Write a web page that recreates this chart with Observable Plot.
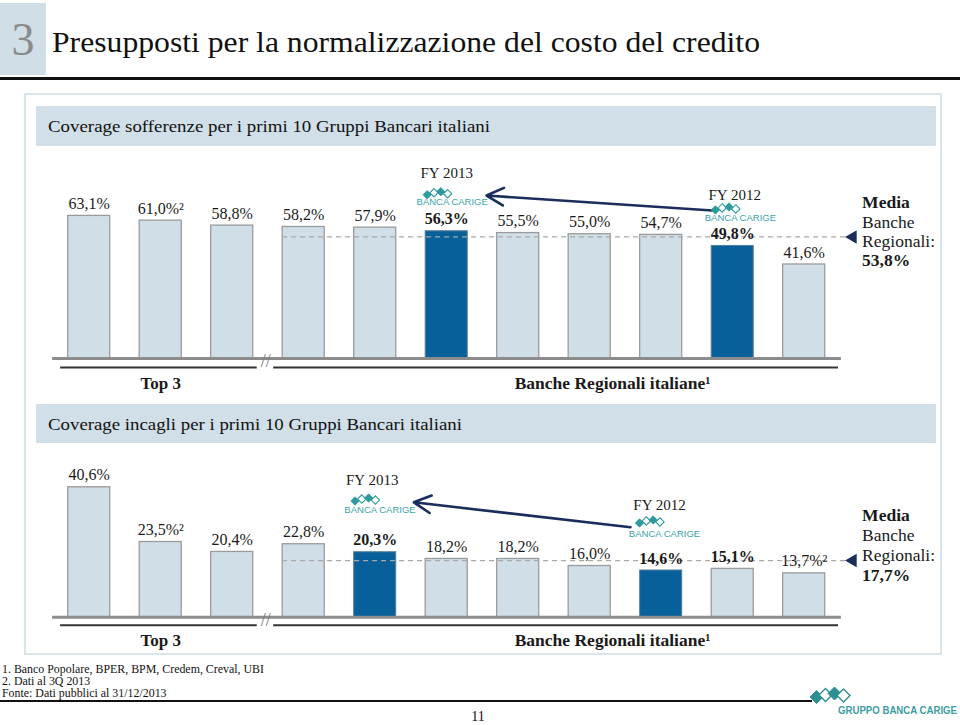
<!DOCTYPE html>
<html>
<head>
<meta charset="utf-8">
<script src="https://cdn.jsdelivr.net/npm/d3@7"></script>
<script src="https://cdn.jsdelivr.net/npm/@observablehq/plot@0.6"></script>
<style>
  body { margin: 0; background: #fff; }
  #page { position: relative; width: 960px; height: 725px; overflow: hidden; background: #fff; font-family: "Liberation Serif", serif; color: #111; }
  .abs { position: absolute; }
  .fit { display: inline-block; white-space: nowrap; transform-origin: 0 50%; }
  .hdr { position: absolute; left: 36px; width: 900px; background: #d1dfe8; }
  .hdr span { position: absolute; left: 12px; top: 50%; font-size: 17.5px; line-height: 20px; margin-top: -10px; color: #111; }
  .chart { position: absolute; left: 0; }
  .foot { position: absolute; left: 2px; font-size: 11.5px; line-height: 11px; height: 11px; color: #111; }
</style>
</head>
<body>
<div id="page">
  <div class="abs" style="left:0;top:3px;width:46px;height:72px;background:#d0dee7;"></div>
  <div class="abs" style="left:0;top:13px;width:46px;text-align:center;font-size:46px;line-height:54px;color:#8a8a8a;">3</div>
  <div class="abs" style="left:52px;top:25px;height:34px;"><span class="fit" id="title" style="font-size:29px;line-height:34px;">Presupposti per la normalizzazione del costo del credito</span></div>
  <div class="abs" style="left:0;top:77px;width:960px;height:3px;background:#111;"></div>

  <div class="abs" style="left:24px;top:93px;width:914px;height:558px;border:2px solid #d9e4eb;"></div>

  <div class="hdr" style="top:106px;height:40px;"><span class="fit" id="h1">Coverage sofferenze per i primi 10 Gruppi Bancari italiani</span></div>
  <div class="hdr" style="top:404px;height:39px;"><span class="fit" id="h2">Coverage incagli per i primi 10 Gruppi Bancari italiani</span></div>

  <div class="chart" id="chart1" style="top:150px;"></div>
  <div class="chart" id="chart2" style="top:446px;"></div>

  <div class="foot" style="top:664px;"><span class="fit" id="f1">1. Banco Popolare, BPER, BPM, Credem, Creval, UBI</span></div>
  <div class="foot" style="top:676px;"><span class="fit" id="f2">2. Dati al 3Q 2013</span></div>
  <div class="foot" style="top:688px;"><span class="fit" id="f3">Fonte: Dati pubblici al 31/12/2013</span></div>
  <div class="abs" style="left:0;top:700px;width:812px;height:2px;background:#111;"></div>
  <div class="abs" style="left:458px;top:709px;width:40px;text-align:center;font-size:14px;line-height:16px;">11</div>

  <svg class="abs" style="left:806px;top:685px;" width="50" height="22" viewBox="0 0 50 22">
    <path d="M4 12 L10.5 5.5 L17 12 L10.5 18.5 Z" fill="#2e8f92" stroke="#2e8f92" stroke-width="1"/>
    <path d="M13 10 L19.5 3.5 L26 10 L19.5 16.5 Z" fill="#fff" stroke="#2e8f92" stroke-width="1.4"/>
    <path d="M22 8.5 L28.5 2 L35 8.5 L28.5 15 Z" fill="#2e8f92" stroke="#2e8f92" stroke-width="1"/>
    <path d="M31 10.5 L37.5 4 L44 10.5 L37.5 17 Z" fill="#fff" stroke="#2e8f92" stroke-width="1.4"/>
  </svg>
  <div class="abs" style="left:838px;top:700px;height:14px;"><span class="fit" id="logo" style="font-family:'Liberation Sans',sans-serif;font-size:11px;line-height:14px;font-weight:bold;color:#3c9ea1;">GRUPPO BANCA CARIGE</span></div>
</div>

<script>
// ---------------- DATA ----------------
const groupNames = ["Top 3", "Banche Regionali italiane¹"];
const groupOf = ["Top 3","Top 3","Top 3","Regionali","Regionali","Regionali","Regionali","Regionali","Regionali","Regionali","Regionali"];

// Coverage sofferenze
const soffBanks  = ["Top 3 – A","Top 3 – B","Top 3 – C","Regionale A","Regionale B","Banca Carige FY 2013","Regionale C","Regionale D","Regionale E","Banca Carige FY 2012","Regionale F"];
const soffValues = [63.1, 61.0, 58.8, 58.2, 57.9, 56.3, 55.5, 55.0, 54.7, 49.8, 41.6];
const soffNotes  = ["", "²", "", "", "", "", "", "", "", "", ""];
const soffCarige = ["Banca Carige FY 2013", "Banca Carige FY 2012"];
const soffBold   = ["Banca Carige FY 2013", "Banca Carige FY 2012"];
const soffAvg    = 53.8;
const soffAvgLabel = ["Media", "Banche", "Regionali:", "53,8%"];

// Coverage incagli
const incBanks  = ["Top 3 – A","Top 3 – B","Top 3 – C","Regionale A","Banca Carige FY 2013","Regionale B","Regionale C","Regionale D","Banca Carige FY 2012","Regionale E","Regionale F"];
const incValues = [40.6, 23.5, 20.4, 22.8, 20.3, 18.2, 18.2, 16.0, 14.6, 15.1, 13.7];
const incNotes  = ["", "²", "", "", "", "", "", "", "", "", "²"];
const incCarige = ["Banca Carige FY 2013", "Banca Carige FY 2012"];
const incBold   = ["Banca Carige FY 2013", "Banca Carige FY 2012", "Regionale E"];
const incAvg    = 17.7;
const incAvgLabel = ["Media", "Banche", "Regionali:", "17,7%"];

const fyLabels = ["FY 2013", "FY 2012"];
const logoText = "BANCA CARIGE";

// ---------------- STYLE ----------------
const LIGHT = "#d0dee8", DARK = "#07609a", BAR_STROKE = "#9b9b9b";
const NAVY = "#1b2d5a", TEAL = "#2e9a9c", TEXT = "#1a1a1a";
const fmt = v => v.toFixed(1).replace(".", ",") + "%";

function logoMarks(xi, yv, cfg) {
  const marks = [];
  marks.push(Plot.text([cfg.fy], {x: xi, y: yv, dx: cfg.fyDx, dy: cfg.fyDy, text: d => d, fontSize: 15, fill: TEXT}));
  for (let k = 0; k < 4; k++) {
    const filled = k % 2 === 0;
    marks.push(Plot.dot([0], {x: xi, y: yv, dx: cfg.tDx - 25 + k * 6.8, dy: cfg.dDy + [1.5, -0.5, -1.5, 0.5][k],
      symbol: "diamond2", r: 3.8, fill: filled ? TEAL : "#fff", stroke: TEAL, strokeWidth: filled ? 0.8 : 1.1}));
  }
  marks.push(Plot.text([logoText], {x: xi, y: yv, dx: cfg.tDx, dy: cfg.tDy, text: d => d,
    fontFamily: "Liberation Sans, sans-serif", fontSize: 9.5, fill: "#3aa5a8"}));
  return marks;
}

function panel(p) {
  const data = p.values.map((v, i) => ({
    i, bank: p.banks[i], group: groupOf[i], value: v,
    label: fmt(v) + p.notes[i],
    carige: p.carige.includes(p.banks[i]),
    bold: p.bold.includes(p.banks[i])
  }));
  const half = 0.294;
  const i13 = p.banks.indexOf("Banca Carige FY 2013");
  const i12 = p.banks.indexOf("Banca Carige FY 2012");
  const marks = [
    Plot.rectY(data.filter(d => !d.carige), {x1: d => d.i - half, x2: d => d.i + half, y: "value", fill: LIGHT, stroke: BAR_STROKE, strokeWidth: 1.3}),
    Plot.rectY(data.filter(d => d.carige), {x1: d => d.i - half, x2: d => d.i + half, y: "value", fill: DARK, stroke: "#5a7f98", strokeWidth: 1}),
    Plot.ruleY([p.avg], {x1: 2.705, x2: 10.6, stroke: "#a9a9a9", strokeWidth: 1.3, strokeDasharray: "5,4"}),
    Plot.ruleY([0], {x1: -0.512, x2: 10.52, stroke: "#8c8c8c", strokeWidth: 3}),
    Plot.ruleY([0], {x1: -0.40, x2: 2.35, dy: p.bracketDy, stroke: "#333", strokeWidth: 2}),
    Plot.ruleY([0], {x1: 2.58, x2: 10.48, dy: p.bracketDy, stroke: "#333", strokeWidth: 2}),
    Plot.text(["//"], {x: 2.47, y: 0, dy: 3, text: d => d, fontSize: 18, fill: "#7a7a7a"}),
    Plot.text(data.filter(d => !d.bold), {x: "i", y: "value", dy: -12, text: "label", fontSize: 16, fill: TEXT}),
    Plot.text(data.filter(d => d.bold), {x: "i", y: "value", dy: -12, text: "label", fontSize: 16, fontWeight: "bold", fill: TEXT}),
    Plot.text([groupNames[0]], {x: 1, y: 0, dy: p.groupDy, text: d => d, fontSize: 17, fontWeight: "bold", fill: TEXT}),
    Plot.text([groupNames[1]], {x: 7.32, y: 0, dy: p.groupDy, text: d => d, fontSize: 17.5, fontWeight: "bold", fill: TEXT}),
    Plot.dot([p.avg], {x: 10.68, y: d => d, symbol: "triangle", r: 5, fill: NAVY, rotate: -90}),
    Plot.arrow([0], {x1: p.arrow[0], y1: p.arrow[1], x2: p.arrow[2], y2: p.arrow[3], stroke: NAVY, strokeWidth: 2.6, headLength: 11, headAngle: 55}),
    ...logoMarks(i13, p.values[i13], p.logo13),
    ...logoMarks(i12, p.values[i12], p.logo12)
  ];
  p.avgLabel.forEach((t, k) => {
    marks.push(Plot.text([t], {x: 10.81, y: p.avg, dy: p.mediaDy[k], text: d => d, textAnchor: "start",
      fontSize: 17.5, fontWeight: (k === 0 || k === 3) ? "bold" : "normal", fill: TEXT}));
  });
  return Plot.plot({
    width: 960, height: p.height,
    style: {background: "transparent", fontFamily: "Liberation Serif, serif", overflow: "visible"},
    x: {type: "linear", domain: [0, 10], range: [88.7, 803.7], axis: null},
    y: {type: "linear", domain: p.yDomain, range: p.yRange, axis: null},
    marks
  });
}

// upper: baseline at svg y 208, 2.26 px per point
const c1 = panel({
  banks: soffBanks, values: soffValues, notes: soffNotes, carige: soffCarige, bold: soffBold,
  avg: soffAvg, avgLabel: soffAvgLabel,
  height: 250, yDomain: [0, 70], yRange: [208, 208 - 70 * 2.26],
  bracketDy: 9, groupDy: 25,
  mediaDy: [-34.7, -14.7, 4.6, 23.6],
  arrow: [8.717, 65.5, 5.557, 72.1],
  logo13: {fy: fyLabels[0], fyDx: 0, fyDy: -58, dDy: -38, tDx: 5.5, tDy: -29},
  logo12: {fy: fyLabels[1], fyDx: 2, fyDy: -50.5, dDy: -37.5, tDx: 7.7, tDy: -27.5}
});
document.getElementById("chart1").appendChild(c1);

// lower: baseline at svg y 170.7, 3.2 px per point
const c2 = panel({
  banks: incBanks, values: incValues, notes: incNotes, carige: incCarige, bold: incBold,
  avg: incAvg, avgLabel: incAvgLabel,
  height: 204, yDomain: [0, 50], yRange: [170.7, 170.7 - 50 * 3.2],
  bracketDy: 8, groupDy: 23,
  mediaDy: [-45, -25, -5, 15],
  arrow: [7.57, 28.1, 4.54, 35.9],
  logo13: {fy: fyLabels[0], fyDx: -3, fyDy: -72.4, dDy: -52.7, tDx: 4.8, tDy: -42.7},
  logo12: {fy: fyLabels[1], fyDx: -1.7, fyDy: -65, dDy: -49, tDx: 3.3, tDy: -36.7}
});
document.getElementById("chart2").appendChild(c2);

// fit text widths to the reference layout
function fit(id, w) {
  const el = document.getElementById(id);
  const r = el.getBoundingClientRect().width;
  const s = r > 0 ? w / r : 1;
  el.style.transform = `scaleX(${s})`;
  return s;
}
fit("title", 708);
fit("h1", 442);
fit("h2", 414);
const fs = fit("f1", 262);
["f2", "f3"].forEach(id => { document.getElementById(id).style.transform = `scaleX(${fs})`; });
fit("logo", 119);
</script>
</body>
</html>
